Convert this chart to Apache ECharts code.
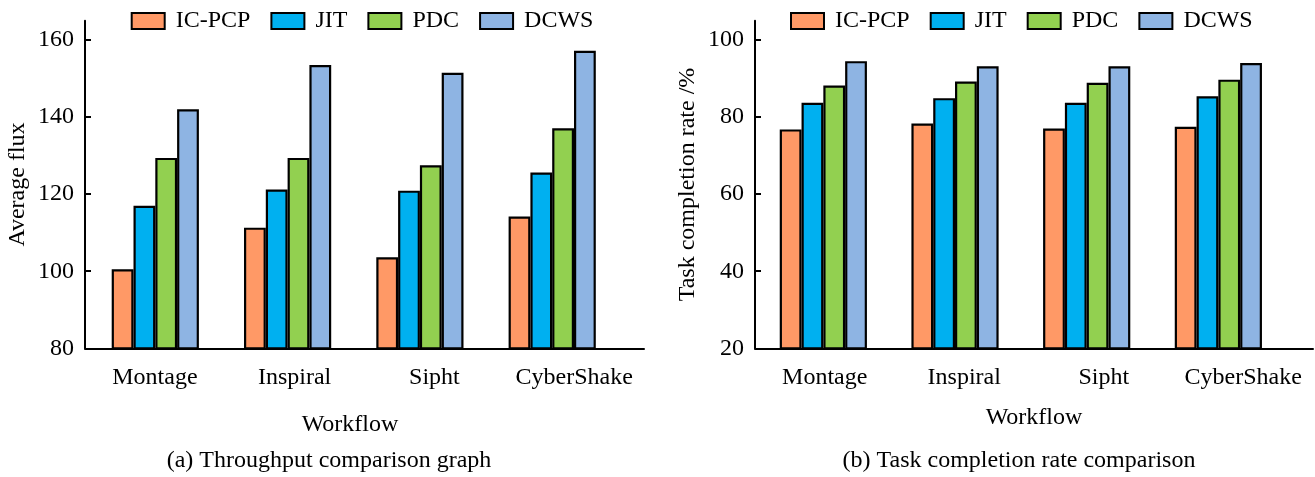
<!DOCTYPE html>
<html>
<head>
<meta charset="utf-8">
<script src="https://cdn.jsdelivr.net/npm/echarts@6/dist/echarts.min.js"></script>
<style>
html,body{margin:0;padding:0;background:#fff;}
#c{width:1315px;height:477px;}
</style>
</head>
<body>
<div id="c"></div>
<script>
const categories = ['Montage', 'Inspiral', 'Sipht', 'CyberShake'];
const seriesNames = ['IC-PCP', 'JIT', 'PDC', 'DCWS'];
const seriesColors = ['#FF9966', '#00B0F0', '#92D050', '#8EB4E3'];

// (a) Average flux
const fluxICPCP = [100.5, 111.3, 103.6, 114.2];
const fluxJIT   = [117.0, 121.2, 120.9, 125.6];
const fluxPDC   = [129.4, 129.4, 127.5, 137.1];
const fluxDCWS  = [142.0, 153.5, 151.5, 157.2];
const fluxTicks = [80, 100, 120, 140, 160];

// (b) Task completion rate
const rateICPCP = [76.8, 78.3, 77.0, 77.5];
const rateJIT   = [83.7, 84.9, 83.7, 85.4];
const ratePDC   = [88.2, 89.2, 88.9, 89.7];
const rateDCWS  = [94.5, 93.2, 93.2, 94.0];
const rateTicks = [20, 40, 60, 80, 100];

const FONT = 'Liberation Serif';
const FS = 24;
const txt = {fontFamily: FONT, fontSize: FS, color: '#000'};

const fluxData = [fluxICPCP, fluxJIT, fluxPDC, fluxDCWS];
const rateData = [rateICPCP, rateJIT, ratePDC, rateDCWS];

function frameX(gridIndex, nameGap, namePad) {
  return {
    gridIndex: gridIndex, type: 'category', data: categories,
    axisLine: {lineStyle: {color: '#000', width: 2}},
    axisTick: {show: false},
    axisLabel: Object.assign({margin: 17, interval: 0, hideOverlap: false}, txt),
    name: 'Workflow', nameLocation: 'middle', nameGap: nameGap,
    nameTextStyle: Object.assign({padding: namePad}, txt)
  };
}
function hiddenX(gridIndex) {
  return {gridIndex: gridIndex, type: 'category', data: categories, show: false};
}
function frameY(gridIndex, min, max, ticks, name) {
  return {
    gridIndex: gridIndex, type: 'value', min: min, max: max,
    axisLine: {show: true, lineStyle: {color: '#000', width: 2}},
    axisTick: {show: true, inside: true, length: 6, lineStyle: {color: '#000', width: 2}, customValues: ticks},
    axisLabel: Object.assign({margin: 11, customValues: ticks}, txt),
    splitLine: {show: false},
    name: name, nameLocation: 'middle', nameGap: 55,
    nameTextStyle: txt
  };
}
function hiddenY(gridIndex, min, max) {
  return {gridIndex: gridIndex, type: 'value', min: min, max: max, show: false, splitLine: {show: false}};
}

const series = [];
seriesNames.forEach(function (n, i) {
  series.push({
    name: n, type: 'bar', xAxisIndex: 1, yAxisIndex: 1,
    data: fluxData[i], barWidth: 21.8, barGap: '0%',
    itemStyle: {color: seriesColors[i], borderColor: '#000', borderWidth: 2.2}
  });
});
seriesNames.forEach(function (n, i) {
  series.push({
    name: n, type: 'bar', xAxisIndex: 3, yAxisIndex: 3,
    data: rateData[i], barWidth: 21.8, barGap: '0%',
    itemStyle: {color: seriesColors[i], borderColor: '#000', borderWidth: 2.2}
  });
});

function legend(left) {
  return {
    left: left, top: 9, padding: 0, itemWidth: 33, itemHeight: 16, itemGap: 20,
    icon: 'rect', selectedMode: false, data: seriesNames,
    textStyle: Object.assign({padding: [0, 0, 0, 6]}, txt)
  };
}

const chart = echarts.init(document.getElementById('c'), null, {renderer: 'canvas'});
chart.setOption({
  animation: false,
  backgroundColor: '#fff',
  title: [
    {text: '(a) Throughput comparison graph', left: 329, top: 449, textAlign: 'center', padding: 0,
     textStyle: Object.assign({fontWeight: 'normal'}, txt)},
    {text: '(b) Task completion rate comparison', left: 1019, top: 449, textAlign: 'center', padding: 0,
     textStyle: Object.assign({fontWeight: 'normal'}, txt)}
  ],
  legend: [legend(130.7), legend(790)],
  grid: [
    {left: 85, top: 20.7, width: 559, height: 327.6},
    {left: 89.15, top: 20.7, width: 529.2, height: 327.6},
    {left: 755, top: 20.7, width: 558, height: 327.6},
    {left: 757.5, top: 20.7, width: 526.7, height: 327.6}
  ],
  xAxis: [frameX(0, 64, [0, 29, 0, 0]), hiddenX(1), frameX(2, 57, [0, 0, 0, 0]), hiddenX(3)],
  yAxis: [
    frameY(0, 80, 165, fluxTicks, 'Average flux'), hiddenY(1, 80, 165),
    frameY(2, 20, 105, rateTicks, 'Task completion rate /%'), hiddenY(3, 20, 105)
  ],
  series: series
});
</script>
</body>
</html>
